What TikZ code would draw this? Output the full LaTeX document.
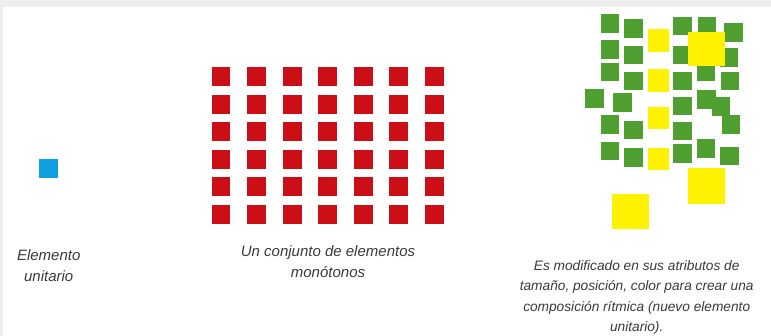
\documentclass[tikz,border=0pt]{standalone}
\usepackage{fontspec}
\setmainfont{Liberation Sans}
\definecolor{bggrey}{HTML}{EEEEEE}
\definecolor{sqred}{HTML}{CC0E16}
\definecolor{sqblue}{HTML}{0EA0E0}
\definecolor{sqgreen}{HTML}{4FA030}
\definecolor{sqyellow}{HTML}{FFF200}
\definecolor{txtgrey}{HTML}{3A3A3A}
\begin{document}
\begin{tikzpicture}[x=1pt,y=-1pt,
  caption/.style={inner sep=0pt,align=center,text=txtgrey,
    font=\fontsize{15}{21}\selectfont\itshape},
  captionr/.style={caption,font=\fontsize{13.7}{20.5}\selectfont\itshape},
  redsq/.style={fill=sqred},
  greensq/.style={fill=sqgreen},
  yellowsq/.style={fill=sqyellow}]
\useasboundingbox (0,0) rectangle (771,336);
\fill[bggrey] (0,0) rectangle (771,336);
\fill[white] (3,7) rectangle (771,336);

% unit element
\fill[sqblue] (39,159.3) rectangle ++(18.8,19);
\node[caption] (t1) at (48.7,265.5) {Elemento\\unitario};

% monotonous grid
\foreach \i in {0,...,6}{
  \foreach \j in {0,...,5}{
    \fill[redsq] (211.7+35.55*\i,67+27.6*\j) rectangle ++(18.7,19);
  }
}
\node[caption] (t2) at (328,261.5) {Un conjunto de elementos\\mon\'otonos};

% rhythmic composition: green squares
\foreach \x/\y in {600.7/14.3,624.3/19.3,673/16.7,697.7/16.7,724/23.3,
  600.7/40,624.3/45.7,673/45.7,719.5/48,
  600.7/62.7,624.3/71.7,673/71.7,696.7/62.5,720.7/71.7,
  585/89.3,613.3/93.3,673/96.7,697/90,711.7/97,721.7/115.5,
  600.7/115,624.3/120.7,673/121.7,
  600.7/141.7,624.3/148.3,673/144.3,696.7/139,720/146.7}{
  \fill[greensq] (\x,\y) rectangle ++(18.7,18.8);
}
% yellow squares
\fill[yellowsq] (648,29.3) rectangle ++(21.3,22.3);
\fill[yellowsq] (648,69.3) rectangle ++(21.3,22.3);
\fill[yellowsq] (648,106.7) rectangle ++(21.3,22.5);
\fill[yellowsq] (648,148.3) rectangle ++(21.3,22);
\fill[yellowsq] (687.7,32) rectangle ++(37.5,34.5);
\fill[yellowsq] (687.7,167.7) rectangle ++(37.5,36.5);
\fill[yellowsq] (611.7,194.3) rectangle ++(37.5,35);

\node[captionr] (t3) at (636.7,297.5) {Es modificado en sus atributos de\\tama\~no, posici\'on, color para crear una\\composici\'on r\'itmica (nuevo elemento\\unitario).};
\end{tikzpicture}
\end{document}
